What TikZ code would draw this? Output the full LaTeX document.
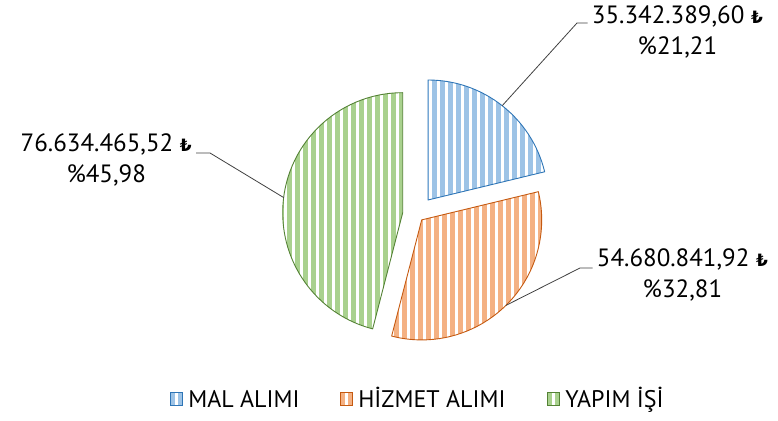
\documentclass[tikz,border=0pt]{standalone}
\usepackage{fontspec}
\setmainfont{PT Sans}
\newfontfamily\lirafont{DejaVu Sans}
\usetikzlibrary{calc,positioning}

\definecolor{maldraw}{HTML}{2E75B6}
\definecolor{malfill}{HTML}{9DC3E6}
\definecolor{hizdraw}{HTML}{C55A11}
\definecolor{hizfill}{HTML}{F4B183}
\definecolor{yapdraw}{HTML}{548235}
\definecolor{yapfill}{HTML}{A9D18E}

\newcommand{\lira}{{\lirafont\bfseries\fontsize{17pt}{17pt}\selectfont ₺}}

\begin{document}
\begin{tikzpicture}[x=1pt,y=1pt,
  lbl/.style={font=\fontsize{25pt}{30pt}\selectfont, inner xsep=4pt, inner ysep=0pt},
  leader/.style={draw=black!75, line width=0.8pt},
  legbox/.style={draw=#1draw, fill=#1fill, line width=0.8pt, minimum size=12.5pt, inner sep=0pt,
    path picture={\fill[white] ([xshift=-2pt]path picture bounding box.south) rectangle ([xshift=1pt]path picture bounding box.north);}},
  legtxt/.style={font=\fontsize{24pt}{29pt}\selectfont, inner sep=0pt, text height=16.8pt, text depth=0pt}]

\useasboundingbox (0,0) rectangle (778,420);

% slices
\foreach \nm/\ax/\ay/\sa/\ea/\fc/\dc in {mal/428/220/13.6/90/malfill/maldraw,
    hiz/421.7/200.1/-104.5/13.6/hizfill/hizdraw,
    yap/402.7/207.3/90/255.5/yapfill/yapdraw}{
  \coordinate (\nm) at (\ax,\ay);
  \coordinate (\nm p) at ($(\nm)+({(\sa+\ea)/2}:120)$);
  \begin{scope}
    \clip (\nm) -- ++(\sa:120) arc[start angle=\sa, end angle=\ea, radius=120pt] -- cycle;
    \foreach \s in {-124,-116,...,124}
      \fill[fill=\fc] (\ax+\s,\ay-125) rectangle ++(5,250);
  \end{scope}
  \draw[draw=\dc, line width=0.9pt, line join=round] (\nm) -- ++(\sa:120) arc[start angle=\sa, end angle=\ea, radius=120pt] -- cycle;
}

% labels
\node[lbl, anchor=base west] (valmal) at (587.7,396) {35.342.389,60 \lira};
\node[lbl, anchor=base] (pctmal) at ([yshift=-31pt]valmal.base) {\%21,21};
\node[lbl, anchor=base west] (valhiz) at (592.7,153.3) {54.680.841,92 \lira};
\node[lbl, anchor=base] (pcthiz) at ([yshift=-31pt]valhiz.base) {\%32,81};
\node[lbl, anchor=base east] (valyap) at (196,268) {76.634.465,52 \lira};
\node[lbl, anchor=base] (pctyap) at ([yshift=-31pt]valyap.base) {\%45,98};

\coordinate (kmal) at (577,397);
\coordinate (khiz) at (580,152);
\coordinate (kyap) at (210,267);

\draw[leader] (malp) -- (kmal) -- (kmal -| valmal.west);
\draw[leader] (hizp) -- (khiz) -- (khiz -| valhiz.west);
\draw[leader] (yapp) -- (kyap) -- (kyap -| valyap.east);

% legend
\node[legbox=mal] (lgmal) at (176.5,21) {};
\node[legtxt, right=5pt of lgmal] (txmal) {MAL ALIMI};
\node[legbox=hiz] (lghiz) at (346.5,21) {};
\node[legtxt, right=5pt of lghiz] (txhiz) {HİZMET ALIMI};
\node[legbox=yap] (lgyap) at (553.5,21) {};
\node[legtxt, right=5pt of lgyap] (txyap) {YAPIM İŞİ};

\end{tikzpicture}
\end{document}
